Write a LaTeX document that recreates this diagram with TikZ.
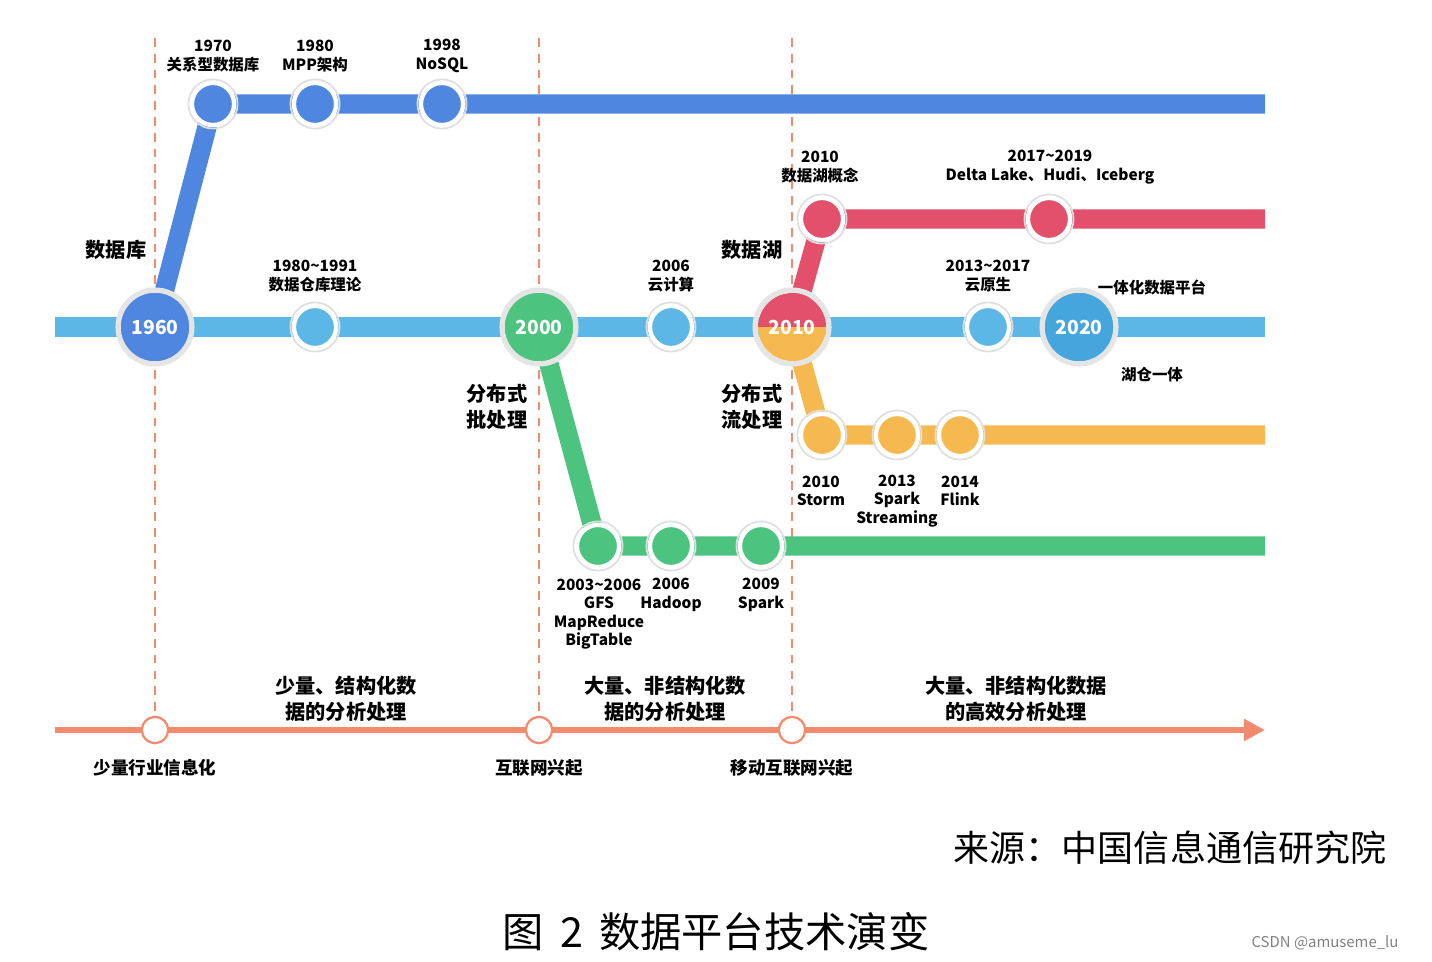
\documentclass[tikz,border=0pt]{standalone}
\usepackage{fontspec}
\setmainfont{Noto Sans CJK SC}
\usetikzlibrary{arrows.meta}
\definecolor{cdb}{HTML}{4F87E0}
\definecolor{cmain}{HTML}{5CB6E6}
\definecolor{clake}{HTML}{E2506C}
\definecolor{cstream}{HTML}{F6B94F}
\definecolor{cbatch}{HTML}{4CC480}
\definecolor{caxis}{HTML}{F28A6E}
\definecolor{c2020}{HTML}{45A5DD}
\tikzset{
 track/.style={line width=11pt},
 dot/.style={circle,draw=white,line width=2.5pt,minimum size=24pt,inner sep=0pt},
 dotring/.style={circle,draw=gray!25,line width=1pt,minimum size=28pt,inner sep=0pt},
 big/.style={circle,draw=gray!20,line width=3pt,minimum size=42pt,inner sep=0pt,font=\bfseries\fontsize{11}{11}\selectfont,text=white},
 lab/.style={font=\bfseries\fontsize{8.8}{10.5}\selectfont,align=center},
 head/.style={font=\bfseries\fontsize{11.5}{15}\selectfont,align=center},
 guide/.style={caxis,line width=1pt,dash pattern=on 5pt off 4pt},
 tick/.style={circle,draw=caxis,fill=white,line width=1.3pt,minimum size=15pt,inner sep=0pt}
}
\begin{document}
\begin{tikzpicture}[x=0.02cm,y=-0.02cm]
\useasboundingbox (0,0) rectangle (1432,962);
\foreach \x in {155,539,792} \draw[guide] (\x,38) -- (\x,718);
\coordinate (dbL) at (213,104); \coordinate (dbR) at (1265,104);
\coordinate (mL) at (55,327); \coordinate (mR) at (1265,327);
\coordinate (lk) at (822,219); \coordinate (lkR) at (1265,219);
\coordinate (st) at (822,435); \coordinate (stR) at (1265,435);
\coordinate (bt) at (598,546); \coordinate (btR) at (1265,546);
\draw[track,cmain] (mL) -- (mR);
\draw[track,cdb] (155,327) -- (dbL) -- (dbR);
\draw[track,clake] (792,327) -- (lk) -- (lkR);
\draw[track,cstream] (792,327) -- (st) -- (stR);
\draw[track,cbatch] (539,327) -- (bt) -- (btR);
\draw[caxis,line width=3pt,-{Triangle[length=12pt,width=12pt]}] (55,730) -- (1265,730);
\node[tick] (t1) at (155,730) {}; \node[tick] (t2) at (539,730) {}; \node[tick] (t3) at (792,730) {};
\foreach \n/\x/\y/\c in {a/213/104/cdb,b/315/104/cdb,c/442/104/cdb,d/315/327/cmain,e/671/327/cmain,f/988/327/cmain,g/822/219/clake,h/1049/219/clake,i/822/435/cstream,j/897/435/cstream,k/960/435/cstream,l/598/546/cbatch,m/671/546/cbatch,n/761/546/cbatch}
  {\node[dotring] at (\x,\y) {}; \node[dot,fill=\c] (\n) at (\x,\y) {};}
\node[big,fill=cdb] (b1960) at (155,327) {1960};
\node[big,fill=cbatch] (b2000) at (539,327) {2000};
\fill[cstream] (792,327) ++(-34,0) arc[start angle=180,end angle=0,radius=34] -- cycle;
\fill[clake] (792,327) ++(34,0) arc[start angle=0,end angle=-180,radius=34] -- cycle;
\node[big,fill=none] (b2010) at (792,327) {2010};
\node[big,fill=c2020] (b2020) at (1079,327) {2020};
\node[lab] at (213,56) {1970\\关系型数据库};
\node[lab] at (315,56) {1980\\MPP架构};
\node[lab] at (442,56) {1998\\NoSQL};
\node[lab] at (315,276) {1980\textasciitilde1991\\数据仓库理论};
\node[lab] at (671,276) {2006\\云计算};
\node[lab] at (820,167) {2010\\数据湖概念};
\node[lab] at (1050,167) {2017\textasciitilde2019\\Delta Lake、Hudi、Iceberg};
\node[lab] at (988,276) {2013\textasciitilde2017\\云原生};
\node[lab] at (1152,287) {一体化数据平台};
\node[lab] at (1152,375) {湖仓一体};
\node[lab] at (821,491) {2010\\Storm};
\node[lab] at (897,501) {2013\\Spark\\Streaming};
\node[lab] at (960,491) {2014\\Flink};
\node[lab] at (599,614) {2003\textasciitilde2006\\GFS\\MapReduce\\BigTable};
\node[lab] at (671,595) {2006\\Hadoop};
\node[lab] at (761,595) {2009\\Spark};
\node[head] at (116,250) {数据库};
\node[head] at (752,250) {数据湖};
\node[head] at (497,407) {分布式\\批处理};
\node[head] at (752,407) {分布式\\流处理};
\node[head] at (346,699) {少量、结构化数\\据的分析处理};
\node[head] at (665,699) {大量、非结构化数\\据的分析处理};
\node[head] at (1016,699) {大量、非结构化数据\\的高效分析处理};
\node[lab,font=\bfseries\fontsize{10}{11}\selectfont] at (155,768) {少量行业信息化};
\node[lab,font=\bfseries\fontsize{10}{11}\selectfont] at (539,768) {互联网兴起};
\node[lab,font=\bfseries\fontsize{10}{11}\selectfont] at (792,768) {移动互联网兴起};
\node[font=\fontsize{20.5}{22}\selectfont] at (1170,848) {来源：中国信息通信研究院};
\node[font=\fontsize{23.5}{25}\selectfont] at (716,932) {图 \,2\, 数据平台技术演变};
\node[font=\fontsize{8.5}{10}\selectfont,text=gray] at (1325,943) {CSDN @amuseme\_lu};
\end{tikzpicture}
\end{document}
